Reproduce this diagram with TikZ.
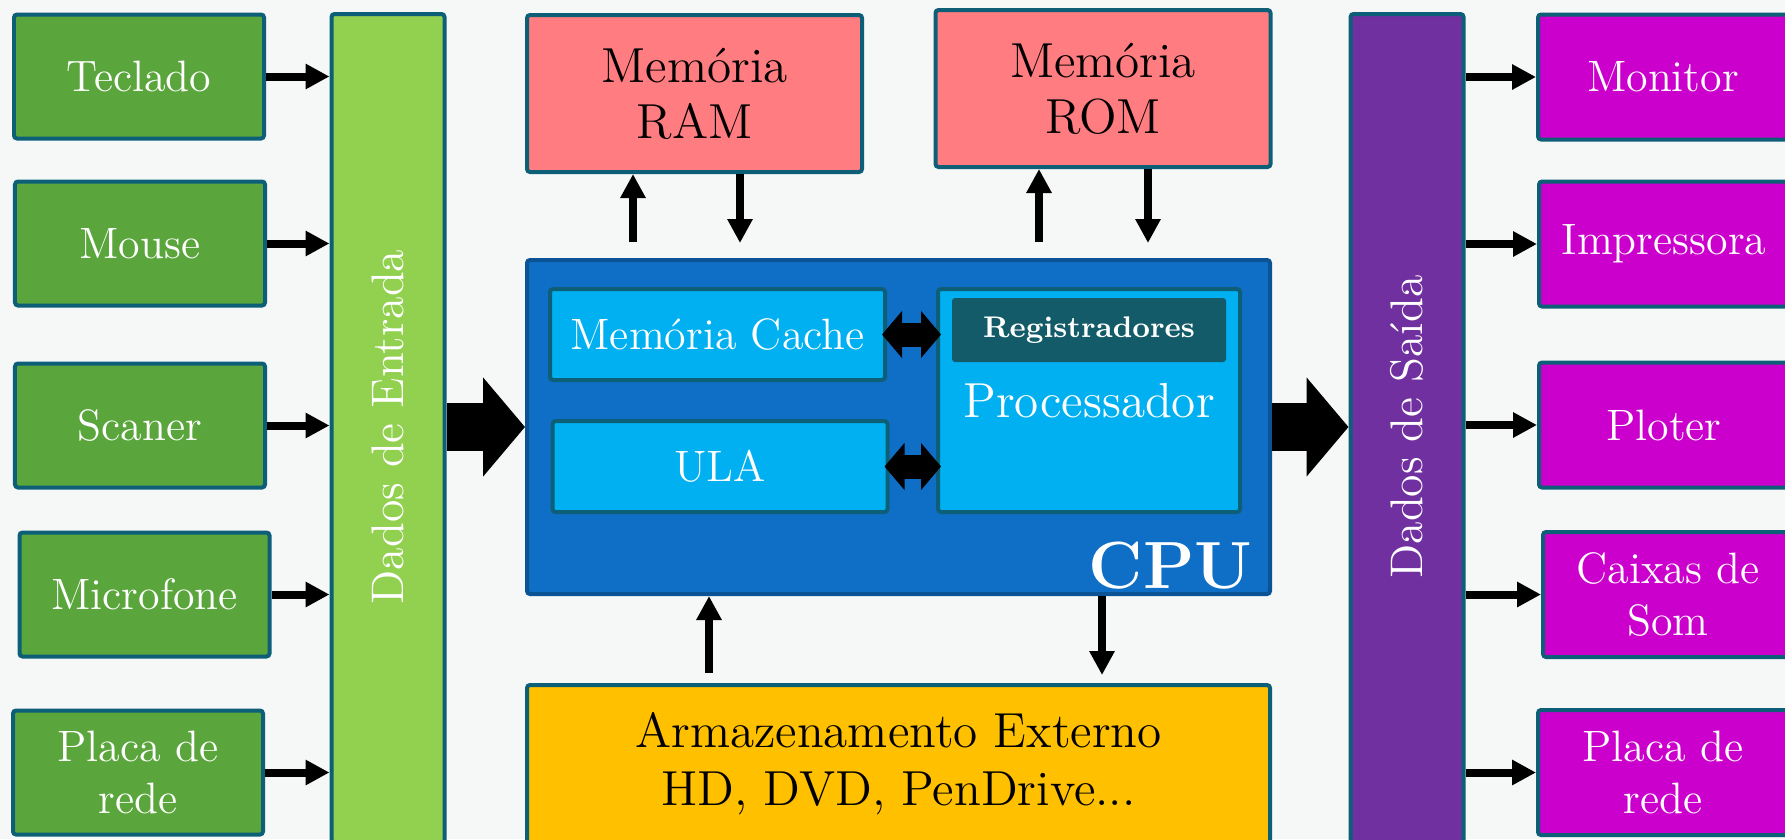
\documentclass[tikz,border=0pt]{standalone}
\usetikzlibrary{positioning,arrows.meta}

\definecolor{fundo}{HTML}{F6F7F7}
\definecolor{borda}{HTML}{0D5F78}
\definecolor{verde}{HTML}{5AA63C}
\definecolor{verdeclaro}{HTML}{92D050}
\definecolor{rosa}{HTML}{FF7C80}
\definecolor{azulcpu}{HTML}{0F6FC6}
\definecolor{bordacpu}{HTML}{0B5394}
\definecolor{ciano}{HTML}{00B0F0}
\definecolor{registro}{HTML}{135B69}
\definecolor{roxo}{HTML}{7030A0}
\definecolor{magentaout}{HTML}{CC00CC}
\definecolor{amarelo}{HTML}{FFC000}

\begin{document}
\begin{tikzpicture}[
    caixa/.style={draw=borda, line width=0.04cm, rounded corners=0.03cm, text=white,
      align=center, inner sep=0pt, font=\fontsize{12.5}{15}\selectfont},
    dispentrada/.style={caixa, fill=verde, minimum width=2.5cm, minimum height=1.24cm},
    dispsaida/.style={caixa, fill=magentaout, minimum width=2.5cm, minimum height=1.25cm},
    memoria/.style={caixa, fill=rosa, text=black, minimum width=3.35cm, minimum height=1.57cm,
      font=\fontsize{14}{16}\selectfont},
    interno/.style={caixa, fill=ciano, minimum width=3.35cm, minimum height=0.91cm},
    barra/.style={caixa, minimum width=1.13cm, minimum height=8.6cm},
    textobarra/.style={rotate=90, text=white, font=\fontsize{13}{15}\selectfont},
    seta/.style={line width=0.08cm, -{Triangle[length=0.24cm,width=0.24cm]}},
    setagrande/.style={line width=0.48cm, -{Triangle[length=0.42cm,width=0.97cm]}},
    setadupla/.style={line width=0.24cm, shorten <=-0.05cm, shorten >=-0.05cm,
      {Triangle[length=0.2cm,width=0.46cm]}-{Triangle[length=0.2cm,width=0.46cm]}}
  ]
  \useasboundingbox (0,0) rectangle (17.85,8.39);
  \fill[fundo] (0,0) rectangle (17.85,8.39);
  \clip (0,0) rectangle (17.85,8.39);

  % entradas
  \node[dispentrada] (teclado) at (1.39,7.625) {Teclado};
  \node[dispentrada] (mouse) at (1.40,5.955) {Mouse};
  \node[dispentrada] (scaner) at (1.40,4.135) {Scaner};
  \node[dispentrada] (microfone) at (1.445,2.445) {Microfone};
  \node[dispentrada] (placaent) at (1.38,0.665) {Placa de\\rede};

  \node[barra, fill=verdeclaro] (entrada) at (3.88,3.95) {};

  % memorias
  \node[memoria] (ram) at (6.945,7.455) {Memória\\RAM};
  \node[memoria] (rom) at (11.03,7.505) {Memória\\ROM};

  % cpu
  \node[caixa, draw=bordacpu, fill=azulcpu, minimum width=7.43cm, minimum height=3.34cm] (cpu) at (8.985,4.12) {};
  \node[interno] (cache) at (7.175,5.045) {Memória Cache};
  \node[interno] (ula) at (7.20,3.725) {ULA};
  \node[interno, minimum width=3.02cm, minimum height=2.23cm, font=\fontsize{14}{16}\selectfont] (proc) at (10.89,4.385) {Processador};
  \node[caixa, draw=none, fill=registro, minimum width=2.74cm, minimum height=0.64cm,
    font=\fontsize{8.5}{10}\selectfont\bfseries, below=0.09cm of proc.north] (reg) {Registradores};
  \node[text=white, inner sep=0pt, anchor=south east, font=\fontsize{19}{22}\selectfont\bfseries]
    (cpulabel) at ([xshift=-0.19cm, yshift=0.06cm]cpu.south east) {CPU};

  % armazenamento
  \node[caixa, fill=amarelo, text=black, minimum width=7.43cm, minimum height=1.58cm,
    font=\fontsize{14}{16.5}\selectfont] (armaz) at (8.985,0.75) {Armazenamento Externo\\HD, DVD, PenDrive...};

  \node[barra, fill=roxo] (saida) at (14.07,3.95) {};

  % saidas
  \node[dispsaida] (monitor) at (16.63,7.62) {Monitor};
  \node[dispsaida] (impressora) at (16.64,5.95) {Impressora};
  \node[dispsaida] (ploter) at (16.64,4.14) {Ploter};
  \node[dispsaida] (caixasom) at (16.68,2.445) {Caixas de\\Som};
  \node[dispsaida] (placasai) at (16.63,0.665) {Placa de\\rede};

  % textos das barras
  \node[textobarra] (txtentrada) at (entrada |- cpu) {Dados de Entrada};
  \node[textobarra] (txtsaida) at (saida |- cpu) {Dados de Saída};

  % setas de entrada
  \foreach \d in {teclado, mouse, scaner, microfone, placaent}
    \draw[seta] (\d.east) -- (\d.east -| entrada.west);

  % setas de saida
  \foreach \d in {monitor, impressora, ploter, caixasom, placasai}
    \draw[seta] (\d.west -| saida.east) -- (\d.west);

  % setas grandes
  \draw[setagrande] (entrada.east |- cpu.west) -- (cpu.west);
  \draw[setagrande] (cpu.east) -- (cpu.east -| saida.west);

  % dentro da cpu
  \draw[setadupla] (cache.east) -- (cache.east -| proc.west);
  \draw[setadupla] (ula.east) -- (ula.east -| proc.west);

  % memorias <-> cpu
  \draw[seta, shorten <=0.16cm] ([xshift=-0.615cm]ram.south |- cpu.north) -- ([xshift=-0.615cm]ram.south);
  \draw[seta, shorten >=0.15cm] ([xshift=0.455cm]ram.south) -- ([xshift=0.455cm]ram.south |- cpu.north);
  \draw[seta, shorten <=0.16cm] ([xshift=-0.64cm]rom.south |- cpu.north) -- ([xshift=-0.64cm]rom.south);
  \draw[seta, shorten >=0.15cm] ([xshift=0.45cm]rom.south) -- ([xshift=0.45cm]rom.south |- cpu.north);

  % armazenamento <-> cpu
  \draw[seta, shorten <=0.1cm] ([xshift=-1.895cm]armaz.north) -- ([xshift=-1.895cm]armaz.north |- cpu.south);
  \draw[seta, shorten >=0.08cm] ([xshift=2.035cm]cpu.south) -- ([xshift=2.035cm]cpu.south |- armaz.north);

\end{tikzpicture}
\end{document}
